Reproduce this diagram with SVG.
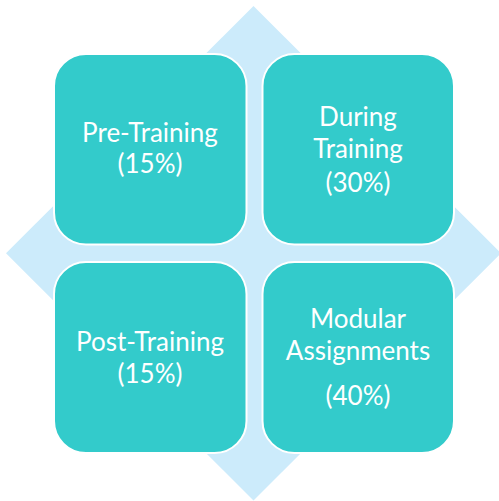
<svg xmlns="http://www.w3.org/2000/svg" width="499" height="501" viewBox="0 0 499 501">
<style>
.bg{fill:#CCEBFB}
.box{fill:#33CBCB;stroke:#FFFFFF;stroke-width:2}
.t{fill:#FFFFFF;font-family:Lato,"Liberation Sans",sans-serif;font-size:26px;text-anchor:middle}
</style>
<rect width="499" height="501" fill="#FFFFFF"/>
<g id="background">
<polygon class="bg" points="253.5,6 501,253.3 253.5,500.5 6,253.3"/>
</g>
<g id="node-pre">
<rect class="box" x="54" y="54" width="192.5" height="190.5" rx="32" ry="32"/>
<text class="t" x="150" y="141.7">Pre-Training</text>
<text class="t" x="150" y="173.3">(15%)</text>
</g>
<g id="node-during">
<rect class="box" x="262.5" y="54" width="191.5" height="190.5" rx="32" ry="32"/>
<text class="t" x="358" y="126">During</text>
<text class="t" x="358" y="158.3">Training</text>
<text class="t" x="358" y="191.7">(30%)</text>
</g>
<g id="node-post">
<rect class="box" x="54" y="262" width="192.5" height="191" rx="32" ry="32"/>
<text class="t" x="150" y="350.7">Post-Training</text>
<text class="t" x="150" y="383.3">(15%)</text>
</g>
<g id="node-modular">
<rect class="box" x="262.5" y="262" width="191.5" height="191" rx="32" ry="32"/>
<text class="t" x="358" y="328.3">Modular</text>
<text class="t" x="358" y="360">Assignments</text>
<text class="t" x="358" y="405">(40%)</text>
</g>
<g id="connectors"></g>
</svg>
